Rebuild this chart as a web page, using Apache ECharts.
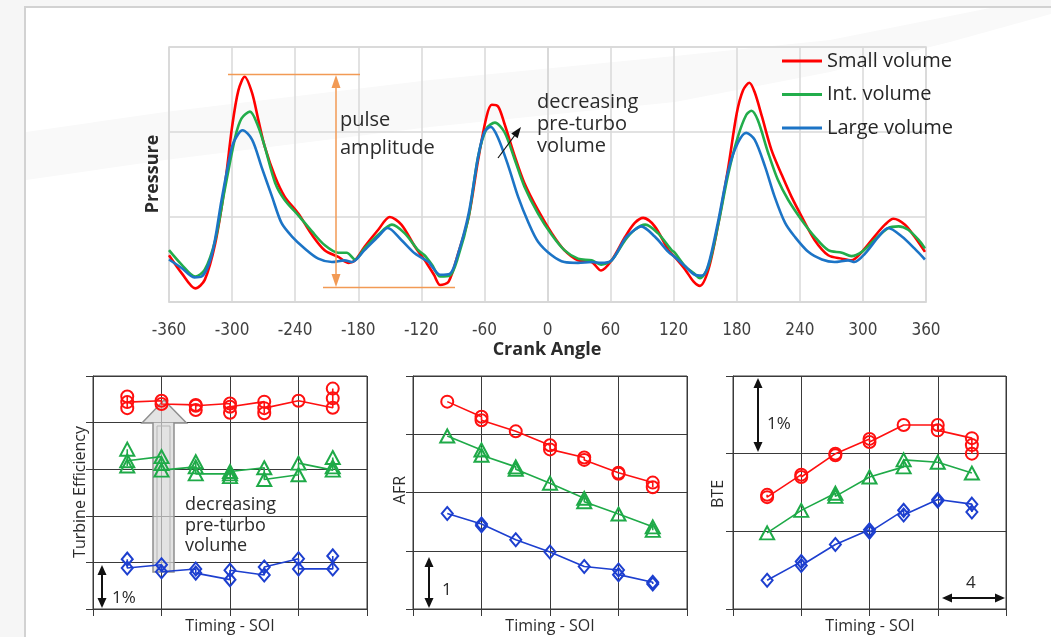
<!DOCTYPE html>
<html>
<head>
<meta charset="utf-8">
<script src="https://cdn.jsdelivr.net/npm/echarts@6/dist/echarts.min.js"></script>
<style>
html,body{margin:0;padding:0;background:#f6f6f6;}
#chart{width:1051px;height:637px;}
</style>
</head>
<body>
<div id="chart"></div>
<script>
// ---------- DATA ----------
const crankTicks = [-360,-300,-240,-180,-120,-60,0,60,120,180,240,300,360];
const seriesNames = ['Small volume','Int. volume','Large volume'];

// Pressure traces: [crank angle, relative pressure]
const smallVolume = [[-360,0.55],[-348,0.34],[-335,0.16],[-326,0.26],[-316,0.69],[-307,1.36],[-300,2.06],[-294,2.49],[-288,2.65],[-281,2.46],[-275,2.14],[-269,1.83],[-259,1.47],[-250,1.24],[-237,1.04],[-224,0.79],[-212,0.61],[-199,0.53],[-189,0.46],[-183,0.49],[-174,0.65],[-161,0.85],[-150,1.0],[-139,0.91],[-126,0.65],[-115,0.46],[-108,0.32],[-102,0.2],[-94,0.24],[-85,0.57],[-75,1.0],[-66,1.67],[-58,2.18],[-53,2.32],[-47,2.30],[-41,2.10],[-31,1.71],[-22,1.40],[-9,1.08],[4,0.81],[16,0.61],[29,0.49],[42,0.47],[51,0.37],[61,0.49],[74,0.77],[83,0.93],[91,0.99],[102,0.89],[115,0.61],[121,0.53],[131,0.38],[139,0.24],[145,0.19],[153,0.38],[162,0.89],[172,1.59],[180,2.22],[186,2.49],[192,2.58],[197,2.47],[204,2.18],[213,1.79],[223,1.49],[232,1.24],[242,1.0],[254,0.73],[267,0.55],[280,0.51],[289,0.49],[299,0.59],[311,0.77],[321,0.91],[329,0.98],[340,0.91],[349,0.77],[359,0.59]];
const intVolume = [[-360,0.61],[-348,0.44],[-335,0.30],[-326,0.38],[-316,0.73],[-307,1.32],[-297,1.94],[-291,2.16],[-283,2.24],[-275,2.06],[-269,1.83],[-259,1.40],[-250,1.20],[-237,1.02],[-224,0.83],[-212,0.67],[-199,0.58],[-191,0.58],[-183,0.50],[-174,0.63],[-161,0.79],[-148,0.91],[-136,0.81],[-123,0.61],[-117,0.55],[-110,0.44],[-102,0.30],[-93,0.31],[-85,0.53],[-75,1.0],[-66,1.71],[-58,2.04],[-50,2.11],[-41,2.0],[-31,1.67],[-22,1.36],[-9,1.04],[4,0.79],[16,0.61],[29,0.51],[42,0.49],[51,0.44],[61,0.49],[74,0.73],[83,0.85],[93,0.91],[105,0.81],[118,0.61],[121,0.58],[131,0.42],[139,0.34],[145,0.28],[153,0.42],[162,0.89],[172,1.51],[181,1.94],[189,2.2],[194,2.25],[200,2.14],[210,1.75],[219,1.44],[229,1.2],[242,0.96],[254,0.77],[267,0.61],[280,0.58],[289,0.54],[299,0.59],[311,0.73],[324,0.87],[334,0.89],[343,0.85],[353,0.73],[359,0.63]];
const largeVolume = [[-360,0.50],[-348,0.40],[-336,0.29],[-329,0.30],[-319,0.57],[-310,1.20],[-300,1.83],[-294,1.98],[-290,2.02],[-281,1.91],[-272,1.59],[-262,1.24],[-253,0.93],[-243,0.77],[-231,0.63],[-218,0.51],[-205,0.47],[-193,0.49],[-186,0.47],[-174,0.61],[-161,0.77],[-152,0.87],[-139,0.73],[-126,0.57],[-113,0.47],[-110,0.42],[-102,0.32],[-93,0.33],[-85,0.57],[-75,1.04],[-66,1.71],[-60,2.0],[-54,2.06],[-47,1.93],[-37,1.59],[-28,1.24],[-18,0.93],[-9,0.71],[4,0.55],[16,0.47],[29,0.46],[42,0.47],[51,0.46],[61,0.49],[74,0.75],[83,0.85],[89,0.89],[102,0.77],[115,0.59],[121,0.53],[131,0.42],[140,0.32],[147,0.31],[153,0.44],[162,0.93],[172,1.55],[181,1.87],[189,1.99],[197,1.91],[207,1.59],[216,1.24],[226,0.93],[235,0.77],[248,0.59],[261,0.50],[273,0.47],[286,0.49],[292,0.47],[302,0.57],[315,0.77],[324,0.87],[337,0.77],[349,0.63],[359,0.50]];

// Injection timing steps (SOI, units of the "4" scale arrow)
const timing = [2,4,6,8,10,12,14];

// Turbine efficiency (repeat points at each timing, in plotted order)
const teSmall = [[4.56,4.31,4.44],[4.47,4.40],[4.38,4.27,4.36],[4.41,4.21,4.34],[4.45,4.20,4.31],[4.47],[4.32,4.52,4.73]];
const teInt   = [[3.43,3.07,3.18],[3.27,3.12,2.98],[3.05,3.16,2.90],[2.90,2.84,2.95],[3.03,2.78],[2.88,3.13],[2.98,3.25,3.05]];
const teLarge = [[1.07,0.88],[0.95,0.80],[0.86,0.77],[0.63,0.83],[0.73,0.90],[1.08,0.86],[0.86,1.14]];

// Air-fuel ratio
const afrSmall = [[3.56],[3.30,3.24],[3.05],[2.81,2.74],[2.60,2.56],[2.34,2.32],[2.17,2.09]];
const afrInt   = [[2.97],[2.73,2.64],[2.44,2.40],[2.16],[1.90,1.84],[1.63],[1.41,1.35]];
const afrLarge = [[1.64],[1.46,1.43],[1.19],[0.98],[0.73],[0.67,0.59],[0.46,0.43]];

// Brake thermal efficiency
const bteSmall = [[1.47,1.44],[1.73,1.70],[2.0,1.98],[2.19,2.15],[2.37],[2.37,2.30],[2.20,2.11,2.0]];
const bteInt   = [[0.98],[1.27],[1.49,1.45],[1.70],[1.83,1.92],[1.89],[1.75]];
const bteLarge = [[0.37],[0.61,0.56],[0.83],[1.02,0.99],[1.27,1.21],[1.41,1.39],[1.35,1.25]];

// ---------- STYLE ----------
const topColors = ['#ff0000','#22ad4b','#1c74c6'];
const botColors = ['#ff1010','#1faa48','#1d3fcf'];
const narrow = "'Liberation Sans Narrow','DejaVu Sans Condensed',Roboto,sans-serif";
const sans = "'Open Sans','Noto Sans',sans-serif";
const orange = '#f29a55';
const dark = '#3a3a3a';

function flatten(groups){
  const out=[];
  groups.forEach((g,i)=>g.forEach(v=>out.push([timing[i],v])));
  return out;
}

const grids = [
  {left:169, top:47, width:757, height:255, show:true, borderColor:'#d6d6d6', borderWidth:1.5},
  {left:93,  top:376, width:274, height:233, show:true, borderColor:dark, borderWidth:1},
  {left:413, top:376, width:274, height:233, show:true, borderColor:dark, borderWidth:1},
  {left:733, top:376, width:273, height:233, show:true, borderColor:dark, borderWidth:1}
];

const xAxes = [{
  gridIndex:0, type:'value', min:-360, max:360, interval:60,
  axisLine:{show:true, lineStyle:{color:'#d6d6d6', width:1.5}},
  axisTick:{show:false},
  splitLine:{show:true, lineStyle:{color:'#d9d9d9', width:1.5}},
  axisLabel:{fontSize:17, fontFamily:narrow, color:'#404040', margin:20,
    formatter:v=>crankTicks.includes(v)?String(v):''}
}];
const yAxes = [{
  gridIndex:0, type:'value', min:0, max:3, interval:1,
  axisLine:{show:true, lineStyle:{color:'#d6d6d6', width:1.5}},
  axisTick:{show:false}, axisLabel:{show:false},
  splitLine:{show:true, lineStyle:{color:'#d9d9d9', width:1.5}}
}];
const yMax = [5,4,3];
for(let k=0;k<3;k++){
  xAxes.push({gridIndex:k+1, type:'value', min:0, max:16, interval:4,
    axisLine:{show:true, lineStyle:{color:dark, width:1}},
    axisTick:{show:true, length:7, lineStyle:{color:dark, width:1}},
    axisLabel:{show:false},
    splitLine:{show:true, lineStyle:{color:dark, width:1}}});
  yAxes.push({gridIndex:k+1, type:'value', min:0, max:yMax[k], interval:1,
    axisLine:{show:true, lineStyle:{color:dark, width:1}},
    axisTick:{show:true, length:7, lineStyle:{color:dark, width:1}},
    axisLabel:{show:false},
    splitLine:{show:true, lineStyle:{color:dark, width:1}}});
}

const series = [];
[smallVolume,intVolume,largeVolume].forEach((d,i)=>{
  series.push({name:seriesNames[i], type:'line', xAxisIndex:0, yAxisIndex:0, data:d,
    showSymbol:false, symbol:'none', smooth:0.3, z:3+i,
    lineStyle:{color:topColors[i], width:2.6}, itemStyle:{color:topColors[i]}});
});
const panels = [[teSmall,teInt,teLarge],[afrSmall,afrInt,afrLarge],[bteSmall,bteInt,bteLarge]];
const panelTitles = ['Turbine efficiency','AFR','BTE'];
const symbols = ['circle','triangle','diamond'];
const symSizes = [[12,12],[14,13],[11,13]];
panels.forEach((p,k)=>{
  p.forEach((groups,i)=>{
    series.push({name:seriesNames[i]+' – '+panelTitles[k], type:'line',
      xAxisIndex:k+1, yAxisIndex:k+1, data:flatten(groups),
      symbol:symbols[i], symbolSize:symSizes[i], showAllSymbol:true, z:5,
      lineStyle:{color:botColors[i], width:1.6},
      itemStyle:{color:'rgba(255,255,255,0)', borderColor:botColors[i], borderWidth:2}});
  });
});

// ---------- GRAPHIC ANNOTATIONS ----------
function txt(x,y,text,font,opts){
  return Object.assign({type:'text', x:x, y:y, z:20,
    style:{text:text, font:font, fill:'#2b2b2b', textAlign:'left', align:'left', textVerticalAlign:'middle', verticalAlign:'middle'}}, opts||{});
}
function ctxt(x,y,text,font,rot){
  return {type:'text', x:x, y:y, rotation:rot||0, z:20,
    style:{text:text, font:font, fill:'#2b2b2b', textAlign:'center', align:'center', textVerticalAlign:'middle', verticalAlign:'middle'}};
}
function arrowHead(tx,ty,dx,dy,len,hw,color){
  const n=Math.hypot(dx,dy); dx/=n; dy/=n;
  const bx=tx-dx*len, by=ty-dy*len;
  return {type:'polygon', z:20, shape:{points:[[tx,ty],[bx-dy*hw,by+dx*hw],[bx+dy*hw,by-dx*hw]]}, style:{fill:color}};
}
function dblArrow(x1,y1,x2,y2,color,w,len,hw){
  const dx=x2-x1, dy=y2-y1, n=Math.hypot(dx,dy);
  const ux=dx/n, uy=dy/n;
  return [
    {type:'line', z:20, shape:{x1:x1+ux*len*0.8,y1:y1+uy*len*0.8,x2:x2-ux*len*0.8,y2:y2-uy*len*0.8}, style:{stroke:color, lineWidth:w}},
    arrowHead(x1,y1,-dx,-dy,len,hw,color),
    arrowHead(x2,y2,dx,dy,len,hw,color)
  ];
}

const graphic = [
  // page frame & faint watermark band
  {type:'rect', z:-10, shape:{x:25,y:7,width:1060,height:660}, style:{fill:'#ffffff', stroke:'#d2d2d2', lineWidth:2}},
  {type:'polygon', z:-9, shape:{points:[[26,132],[165,112],[430,80],[675,56],[830,40],[990,8],[1051,8],[1051,14],[950,42],[830,72],[675,102],[430,127],[165,160],[26,180]]}, style:{fill:'#f9f9f9'}},

  // pulse amplitude annotation
  {type:'line', z:20, shape:{x1:228,y1:74.5,x2:360,y2:74.5}, style:{stroke:orange, lineWidth:1.5}},
  {type:'line', z:20, shape:{x1:323,y1:287.5,x2:455,y2:287.5}, style:{stroke:orange, lineWidth:1.5}},
  ...dblArrow(336,75,336,287,orange,1.5,13,4.5),
  txt(340,120,'pulse','20px '+sans),
  txt(340,148,'amplitude','20px '+sans),

  // decreasing pre-turbo volume (top)
  {type:'line', z:20, shape:{x1:498,y1:158,x2:515,y2:135}, style:{stroke:'#111', lineWidth:1.2}},
  arrowHead(521,127,23,-31,11,4,'#111'),
  txt(537,102,'decreasing','20px '+sans),
  txt(537,124,'pre-turbo','20px '+sans),
  txt(537,146,'volume','20px '+sans),

  // axis titles (top)
  ctxt(153,174,'Pressure','bold 18px '+sans,Math.PI/2),
  ctxt(547,350,'Crank Angle','bold 18px '+sans),

  // panel 1
  {type:'polygon', z:1, shape:{points:[[164,400],[186.5,423],[174,423],[174,572],[153,572],[153,423],[142,423]]},
    style:{fill:'rgba(215,215,215,0.7)', stroke:'#8f8f8f', lineWidth:1.5}},
  {type:'polyline', z:1, shape:{points:[[157,571],[157,426],[170,426],[170,571]]}, style:{stroke:'#b5b5b5', lineWidth:1, fill:null}},
  txt(185,505,'decreasing','18px '+sans),
  txt(185,526,'pre-turbo','18px '+sans),
  txt(185,546,'volume','18px '+sans),
  ...dblArrow(102,565,102,608,'#111',2,10,4.5),
  txt(112,598,'1%','17px '+sans),
  ctxt(80,492,'Turbine Efficiency','16px '+sans,Math.PI/2),
  ctxt(230,626,'Timing - SOI','16px '+sans),

  // panel 2
  ...dblArrow(429,557,429,608,'#111',2,10,4.5),
  txt(442,590,'1','17px '+sans),
  ctxt(400,490,'AFR','16px '+sans,Math.PI/2),
  ctxt(550,626,'Timing - SOI','16px '+sans),

  // panel 3
  ...dblArrow(758,378,758,452,'#111',2,10,4.5),
  txt(767,424,'1%','17px '+sans),
  ...dblArrow(942,598,1005,598,'#111',2,10,4.5),
  txt(966,583,'4','17px '+sans),
  ctxt(718,494,'BTE','16px '+sans,Math.PI/2),
  ctxt(870,626,'Timing - SOI','16px '+sans)
];

const chart = echarts.init(document.getElementById('chart'), null, {renderer:'canvas'});
chart.setOption({
  backgroundColor:'transparent',
  animation:false,
  grid:grids,
  xAxis:xAxes,
  yAxis:yAxes,
  legend:{
    data:seriesNames, orient:'vertical', left:777, top:44,
    icon:'rect', itemWidth:40, itemHeight:3, itemGap:9.5, selectedMode:false,
    textStyle:{fontSize:20, fontFamily:sans, color:'#262626', lineHeight:24}
  },
  series:series,
  graphic:graphic
});
</script>
</body>
</html>
